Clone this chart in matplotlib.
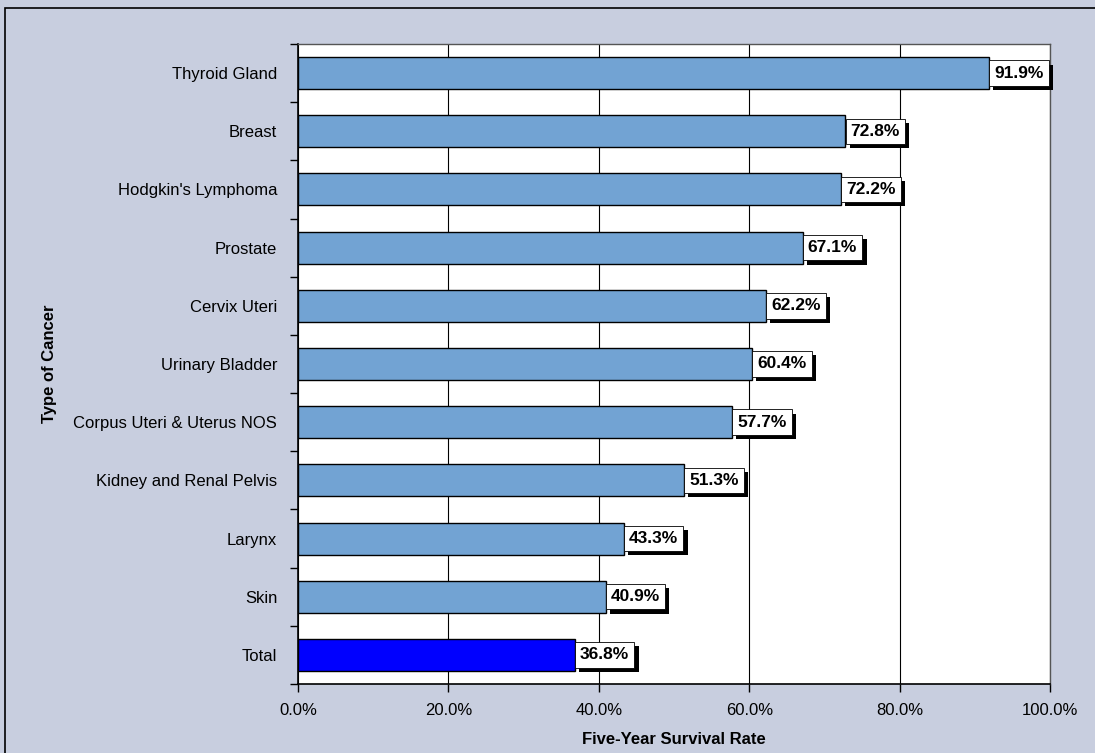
import matplotlib.pyplot as plt
import matplotlib.patheffects as pe
from matplotlib.patches import Rectangle

plt.rcParams['font.family'] = ['Liberation Sans', 'DejaVu Sans']

# Cancer types, top to bottom, and five-year survival rates (%)
cancers = ['Thyroid Gland', 'Breast', "Hodgkin's Lymphoma", 'Prostate', 'Cervix Uteri',
           'Urinary Bladder', 'Corpus Uteri & Uterus NOS', 'Kidney and Renal Pelvis',
           'Larynx', 'Skin', 'Total']
rates = [91.9, 72.8, 72.2, 67.1, 62.2, 60.4, 57.7, 51.3, 43.3, 40.9, 36.8]
xticks = [0, 20, 40, 60, 80, 100]

bg = '#C8CEDF'
fig = plt.figure(figsize=(10.95, 7.53), dpi=100, facecolor=bg)
ax = fig.add_axes([298 / 1095, 1 - 684 / 753, 752 / 1095, 640 / 753])
ax.set_facecolor('white')

# figure border (only left and top are visible)
fig.patches.append(Rectangle((5 / 1095, -0.05), 1.2, 1 - 8 / 753 + 0.05,
                             transform=fig.transFigure, fill=False,
                             edgecolor='black', linewidth=1.2))

n = len(cancers)
ypos = list(range(n - 1, -1, -1))
colors = ['#72A3D3'] * (n - 1) + ['#0000FF']
ax.barh(ypos, rates, height=0.55, color=colors, edgecolor='black', linewidth=1.0, zorder=3)

for y, v in zip(ypos, rates):
    t = ax.text(v + 0.7, y, f'{v:.1f}%', va='center', ha='left', fontsize=12.5,
                fontweight='bold', zorder=5,
                bbox=dict(boxstyle='square,pad=0.3', facecolor='white',
                          edgecolor='black', linewidth=0.6))
    t.get_bbox_patch().set_path_effects([
        pe.SimplePatchShadow(offset=(3, -3), shadow_rgbFace='black', alpha=1.0),
        pe.Normal()])

ax.set_xlim(0, 100)
ax.set_ylim(-0.5, n - 0.5)
ax.set_xticks(xticks)
ax.set_xticklabels([f'{x:.1f}%' for x in xticks], fontsize=12)
ax.set_yticks(ypos)
ax.set_yticklabels(cancers, fontsize=12)
ax.tick_params(axis='y', length=0, pad=15)
ax.set_yticks([i - 0.5 for i in range(n + 1)], minor=True)
ax.tick_params(axis='y', which='minor', length=6, width=1.0, direction='out')
ax.tick_params(axis='x', length=6, width=1.0, direction='out', pad=8)

ax.grid(axis='x', color='black', linewidth=0.8, zorder=0)
ax.set_axisbelow(True)
for side in ['top', 'right']:
    ax.spines[side].set_color('#555555')
    ax.spines[side].set_linewidth(1.0)
for side in ['left', 'bottom']:
    ax.spines[side].set_color('black')
    ax.spines[side].set_linewidth(1.2)

ax.set_xlabel('Five-Year Survival Rate', fontsize=12, fontweight='bold', labelpad=10)
ax.set_ylabel('Type of Cancer', fontsize=12, fontweight='bold', labelpad=12)

fig.savefig('out.png', dpi=100, facecolor=bg)
